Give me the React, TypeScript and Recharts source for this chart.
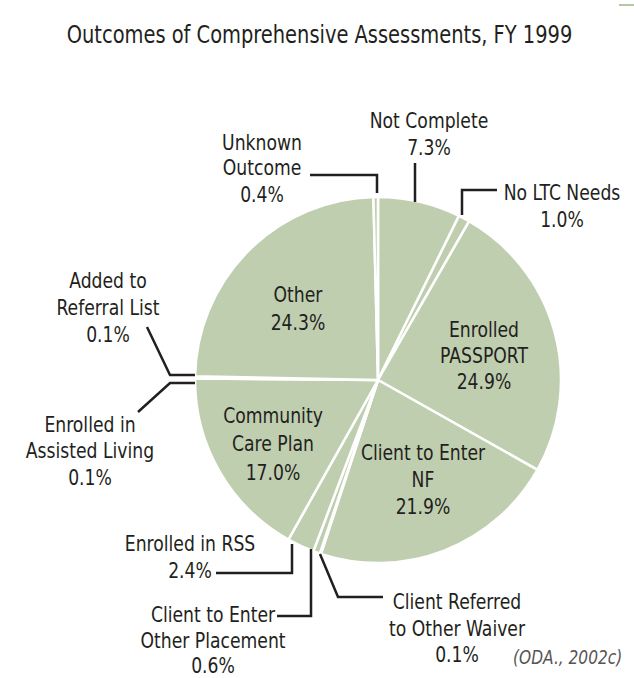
import React from 'react';
import { PieChart, Pie, Cell } from 'recharts';

// slice names and shares, clockwise from 12 o'clock
const outcomes = [
  'Not Complete',
  'No LTC Needs',
  'Enrolled PASSPORT',
  'Client to Enter NF',
  'Client Referred to Other Waiver',
  'Client to Enter Other Placement',
  'Enrolled in RSS',
  'Community Care Plan',
  'Enrolled in Assisted Living',
  'Added to Referral List',
  'Other',
  'Unknown Outcome',
];
const shares = [7.3, 1.0, 24.9, 21.9, 0.1, 0.6, 2.4, 17.0, 0.1, 0.1, 24.3, 0.4];

// text lines of each label (the value line is added from shares)
const labelLines = [
  ['Not Complete'],
  ['No LTC Needs'],
  ['Enrolled', 'PASSPORT'],
  ['Client to Enter', 'NF'],
  ['Client Referred', 'to Other Waiver'],
  ['Client to Enter', 'Other Placement'],
  ['Enrolled in RSS'],
  ['Community', 'Care Plan'],
  ['Enrolled in', 'Assisted Living'],
  ['Added to', 'Referral List'],
  ['Other'],
  ['Unknown', 'Outcome'],
];

const data = outcomes.map((name, i) => ({ name, value: shares[i] }));

// label placement, offsets from the pie centre
const labelLayout: { x: number; ys: number[]; leader?: number[][] }[] = [
  { x: 51, ys: [-252, -225], leader: [[37, -217], [37, -178]] },
  { x: 184, ys: [-180, -153], leader: [[119, -190], [84, -190], [84, -165]] },
  { x: 106, ys: [-43, -17, 9] },
  { x: 45, ys: [80, 107, 134] },
  { x: 79, ys: [229, 256, 282], leader: [[5, 217], [-40, 217], [-58, 174]] },
  { x: -165, ys: [242, 268, 293], leader: [[-101, 236], [-67, 236], [-67, 169]] },
  { x: -188, ys: [171, 198], leader: [[-162, 193], [-86, 193], [-86, 164]] },
  { x: -105, ys: [43, 71, 100] },
  { x: -288, ys: [52, 78, 105], leader: [[-240, 32], [-208, 3], [-183, 3]] },
  { x: -270, ys: [-92, -65, -38], leader: [[-231, -53], [-208, -5], [-183, -5]] },
  { x: -80, ys: [-78, -50] },
  { x: -116, ys: [-230, -205, -178], leader: [[-68, -205], [-1, -205], [-1, -187]] },
];

const FONT = "'Liberation Sans Narrow', 'DejaVu Sans Condensed', 'Roboto Condensed', Roboto, sans-serif";
const INK = '#231f20';
const SAGE = '#c0ceb0';
const SQUEEZE = 0.87;

const renderLabel = (props: any) => {
  const { cx, cy, index } = props;
  const lay = labelLayout[index];
  const lines = [...labelLines[index], `${shares[index].toFixed(1)}%`];
  return (
    <g key={`lbl-${index}`}>
      {lay.leader && (
        <polyline
          points={lay.leader.map(([dx, dy]) => `${cx + dx},${cy + dy}`).join(' ')}
          fill="none"
          stroke={INK}
          strokeWidth={2.5}
        />
      )}
      {lines.map((t, j) => (
        <text
          key={j}
          x={0}
          y={0}
          transform={`translate(${cx + lay.x},${cy + lay.ys[j]}) scale(${SQUEEZE},1)`}
          textAnchor="middle"
          fill={INK}
          fontSize={22}
          fontFamily={FONT}
        >
          {t}
        </text>
      ))}
    </g>
  );
};

export default function App() {
  return (
    <div style={{ position: 'absolute', left: 0, top: 0, width: 634, height: 678, background: '#fff', fontFamily: FONT }}>
      <div style={{ position: 'absolute', left: 619, top: 4, width: 15, height: 2, background: '#b5c7a5' }} />
      <div
        style={{
          position: 'absolute',
          left: 0,
          top: 20,
          width: 639,
          textAlign: 'center',
          fontSize: 24,
          color: INK,
          lineHeight: '30px',
          transform: 'scaleX(0.9)',
        }}
      >
        Outcomes of Comprehensive Assessments, FY 1999
      </div>
      <PieChart width={634} height={678} style={{ position: 'absolute', left: 0, top: 0 }}>
        <Pie
          data={data}
          dataKey="value"
          nameKey="name"
          cx={373}
          cy={375}
          outerRadius={183}
          startAngle={90}
          endAngle={-270}
          stroke="#fff"
          strokeWidth={2.5}
          label={renderLabel}
          labelLine={false}
          isAnimationActive={false}
        >
          {data.map((d) => (
            <Cell key={d.name} fill={SAGE} />
          ))}
        </Pie>
      </PieChart>
      <div
        style={{
          position: 'absolute',
          right: 12,
          top: 646,
          fontSize: 19,
          fontStyle: 'italic',
          color: '#555',
          transform: 'scaleX(0.9)',
          transformOrigin: 'right center',
        }}
      >
        (ODA., 2002c)
      </div>
    </div>
  );
}
